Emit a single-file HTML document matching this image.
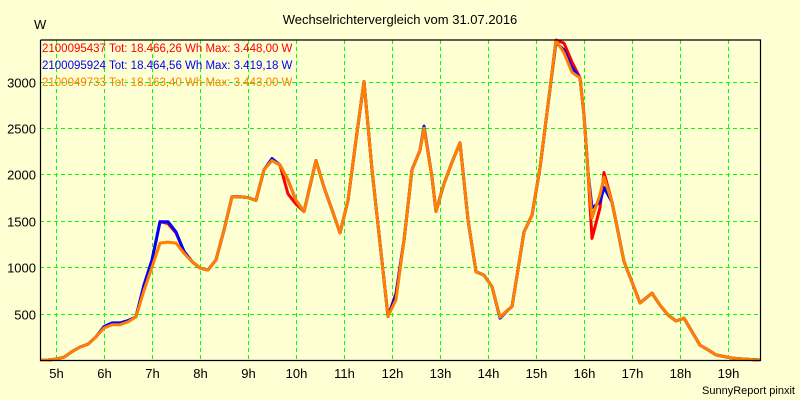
<!DOCTYPE html>
<html><head><meta charset="utf-8"><style>
body{margin:0;background:#ffffd4;}
svg{display:block;font-family:"Liberation Sans",sans-serif;}
</style></head><body>
<svg id="chart" width="800" height="400" viewBox="0 0 800 400">
<rect x="0" y="0" width="800" height="400" fill="#ffffd4"/>
<text x="400" y="24" text-anchor="middle" font-size="13">Wechselrichtervergleich vom 31.07.2016</text>
<text x="34" y="29" font-size="13">W</text>
<g id="grid"></g>
<g id="series"></g>
<g id="axes"></g>
<g id="legend"></g>
<text x="795" y="394" text-anchor="end" font-size="11">SunnyReport pinxit</text>
</svg>
<script>
const times=[280,290,300,310,320,330,340,350,360,370,380,390,400,410,420,430,440,450,460,470,480,490,500,510,520,530,540,550,560,570,580,590,600,610,625,635,645,655,665,675,685,695,705,715,725,735,745,755,760,770,775,785,795,805,815,825,835,845,855,865,870,880,885,895,905,915,925,935,945,955,960,965,970,980,985,995,1000,1010,1020,1030,1045,1055,1065,1075,1085,1105,1115,1125,1145,1160,1180];
const seriesOrange=[0,0,10,30,90,140,170,250,345,380,380,410,465,750,1000,1260,1270,1260,1150,1060,990,970,1080,1400,1760,1760,1750,1720,2050,2150,2100,1940,1720,1600,2150,1860,1620,1370,1720,2370,3000,2050,1260,470,650,1290,2050,2260,2500,1970,1600,1900,2130,2340,1510,950,915,790,460,540,575,1110,1380,1560,2070,2750,3443,3310,3100,3040,2640,2030,1530,1780,1970,1700,1490,1060,840,615,720,590,485,420,450,160,110,55,20,10,0];
const seriesBlue=[0,0,10,30,90,140,170,250,360,400,400,425,465,810,1080,1490,1490,1380,1170,1060,990,970,1080,1400,1760,1760,1750,1720,2050,2170,2100,1940,1720,1600,2150,1860,1620,1370,1720,2370,3000,2050,1260,470,700,1290,2050,2260,2520,1970,1600,1900,2130,2340,1510,950,915,790,450,540,575,1110,1380,1560,2070,2750,3419,3340,3150,3040,2640,2030,1640,1700,1860,1700,1490,1060,840,615,720,590,485,420,450,160,110,55,20,10,0];
const seriesRed=[0,0,10,30,90,140,170,250,350,390,395,420,465,800,1070,1490,1470,1370,1170,1060,990,970,1080,1400,1760,1760,1750,1720,2050,2150,2100,1790,1680,1600,2150,1860,1620,1370,1720,2370,3000,2050,1260,470,720,1290,2050,2260,2500,1970,1600,1900,2130,2340,1510,950,915,790,460,540,575,1110,1380,1560,2070,2750,3448,3415,3210,3040,2640,2030,1310,1640,2020,1700,1490,1060,840,615,720,590,485,420,450,160,110,55,20,10,0];
const yTicks=[500,1000,1500,2000,2500,3000];
const xTicks=[5,6,7,8,9,10,11,12,13,14,15,16,17,18,19];
const legendLabels=["2100095437 Tot: 18.466,26 Wh Max: 3.448,00 W","2100095924 Tot: 18.464,56 Wh Max: 3.419,18 W","2100049733 Tot: 18.163,40 Wh Max: 3.443,00 W"];

const L=40,R=760,T=40,B=360;
const xS=m=>56+(m-300)*48/60;
const yS=v=>B-v*(B-T)/3448;
const NS="http://www.w3.org/2000/svg";
function mk(tag,attrs,parent){const e=document.createElementNS(NS,tag);for(const k in attrs)e.setAttribute(k,attrs[k]);parent.appendChild(e);return e;}
const grid=document.getElementById('grid'),axes=document.getElementById('axes'),ser=document.getElementById('series'),leg=document.getElementById('legend');
yTicks.forEach(v=>{
  const y=Math.round(yS(v))+0.5;
  const g=mk('line',{x1:L,x2:R,y1:y,y2:y,stroke:'#00ff00','stroke-dasharray':'4,3'},grid);
  
  
  const t=mk('text',{x:36,y:y+5,'text-anchor':'end','font-size':'13'},axes);
  t.textContent=v;
  
  
});
xTicks.forEach(h=>{
  const x=Math.round(xS(h*60))+0.5;
  const g=mk('line',{x1:x,x2:x,y1:T,y2:B,stroke:'#00ff00','stroke-dasharray':'4,3'},grid);
  
  
  const t=mk('text',{x:x,y:378,'text-anchor':'middle','font-size':'13'},axes);
  t.textContent=h+'h';
  
  
});
const frame=mk('path',{d:`M${L+0.5},${T} V${B+0.5} H${R+0.5} V${T} H${L+0.5}`,fill:'none',stroke:'#000','stroke-width':1.2},axes);


[[seriesRed,'#ff0000','red-series-line'],[seriesBlue,'#0000ff','blue-series-line'],[seriesOrange,'#ff8000','orange-series-line']].forEach(([vals,c,n])=>{
  const pts=vals.map((v,i)=>xS(times[i]).toFixed(1)+','+yS(v).toFixed(1)).join(' ');
  const p=mk('polyline',{points:pts,fill:'none',stroke:c,'stroke-width':3,'stroke-linejoin':'round'},ser);
  
  
});
const lc=['#ff0000','#0000ff','#ff8000'];
legendLabels.forEach((s,i)=>{
  const t=mk('text',{x:42,y:52+i*17,'font-size':'11.5',fill:lc[i]},leg);
  t.textContent=s;
  
  
});
</script>
</body></html>
